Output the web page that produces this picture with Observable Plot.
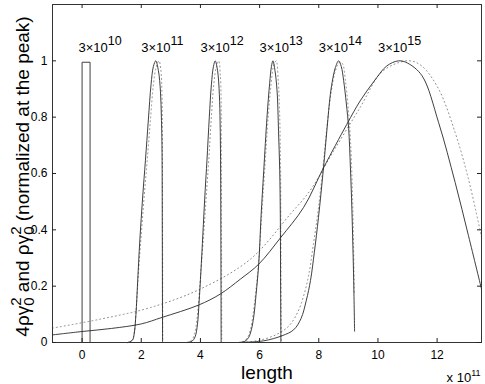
<!DOCTYPE html>
<html><head><meta charset="utf-8">
<script src="https://cdn.jsdelivr.net/npm/d3@7"></script>
<script src="https://cdn.jsdelivr.net/npm/@observablehq/plot@0.6"></script>
<style>body{margin:0;background:#fff}</style>
</head><body><div id="chart"></div>
<script>
// Axis ticks and labels
const xTicks = [0, 2, 4, 6, 8, 10, 12];
const yTicks = [0, 0.2, 0.4, 0.6, 0.8, 1];
const yTickLabels = ["0", "0.2", "0.4", "0.6", "0.8", "1"];
// Peak annotations
const labelX = [-0.12, 2, 4, 6, 8, 10];
const labelText = ["3×10^{10}", "3×10^{11}", "3×10^{12}", "3×10^{13}", "3×10^{14}", "3×10^{15}"];
const labelY = 1.03;
const xLabel = "length";
const yLabel = "4ργ_{0}^{2} and ργ_{0}^{2} (normalized at the peak)";
const xExponent = "x 10^{11}";

// Curves [length (×1e11), normalized value]
const rect10 = [[0,0],[0,0.995],[0.27,0.995],[0.27,0]];
const solid11 = [[1.55,0],[1.70,0.008],[1.76,0.03],[1.82,0.10],[1.88,0.22],[1.95,0.36],[2.05,0.52],[2.14,0.645],[2.24,0.79],[2.33,0.915],[2.41,0.98],[2.49,1.0],[2.58,0.965],[2.65,0.89],[2.68,0.80],[2.70,0.70],[2.71,0.45],[2.715,0.2],[2.72,0]];
const dotted11 = [[1.55,0],[1.70,0.01],[1.77,0.04],[1.83,0.12],[1.90,0.24],[1.99,0.37],[2.10,0.52],[2.20,0.645],[2.31,0.79],[2.41,0.915],[2.50,0.975],[2.60,1.0],[2.66,0.97],[2.70,0.88],[2.715,0.7],[2.72,0.4],[2.725,0]];
const solid12 = [[3.55,0],[3.72,0.005],[3.82,0.02],[3.90,0.065],[3.95,0.135],[4.03,0.28],[4.10,0.42],[4.16,0.54],[4.22,0.645],[4.30,0.80],[4.37,0.915],[4.44,0.98],[4.50,1.0],[4.58,0.965],[4.64,0.88],[4.665,0.78],[4.68,0.65],[4.69,0.4],[4.70,0]];
const dotted12 = [[3.55,0],[3.70,0.008],[3.80,0.03],[3.88,0.08],[3.95,0.16],[4.05,0.30],[4.14,0.43],[4.21,0.54],[4.28,0.645],[4.37,0.80],[4.45,0.915],[4.53,0.975],[4.62,1.0],[4.67,0.955],[4.70,0.86],[4.71,0.6],[4.715,0.3],[4.72,0]];
const solid13 = [[5.3,0],[5.5,0.004],[5.63,0.018],[5.72,0.045],[5.80,0.09],[5.88,0.17],[5.97,0.278],[6.05,0.45],[6.14,0.61],[6.25,0.80],[6.34,0.92],[6.40,0.98],[6.45,1.0],[6.52,0.965],[6.59,0.894],[6.64,0.75],[6.68,0.61],[6.70,0.45],[6.71,0.2],[6.72,0]];
const dotted13 = [[5.3,0],[5.48,0.005],[5.60,0.02],[5.70,0.05],[5.78,0.10],[5.87,0.18],[5.97,0.29],[6.07,0.45],[6.17,0.61],[6.29,0.80],[6.39,0.92],[6.47,0.98],[6.56,1.0],[6.63,0.93],[6.68,0.80],[6.71,0.6],[6.72,0.3],[6.73,0]];
const solid14 = [[5.3,0],[6.14,0.006],[6.76,0.024],[7.15,0.045],[7.40,0.085],[7.58,0.15],[7.72,0.22],[7.85,0.32],[7.99,0.444],[8.16,0.62],[8.28,0.76],[8.39,0.88],[8.48,0.94],[8.56,0.976],[8.67,1.0],[8.76,0.98],[8.84,0.93],[8.93,0.85],[9.01,0.76],[9.07,0.62],[9.12,0.47],[9.18,0.22],[9.21,0.04]];
const dotted14 = [[5.3,0],[6.0,0.008],[6.6,0.03],[7.0,0.06],[7.3,0.11],[7.5,0.17],[7.66,0.24],[7.82,0.35],[7.98,0.47],[8.14,0.62],[8.28,0.77],[8.42,0.89],[8.55,0.96],[8.70,0.995],[8.80,0.99],[8.90,0.93],[8.99,0.84],[9.07,0.72],[9.13,0.56],[9.17,0.38],[9.20,0.17]];
const solid15 = [[-1,0.027],[0,0.039],[1,0.05],[2,0.066],[2.7,0.089],[3.94,0.133],[4.67,0.172],[5.35,0.225],[5.97,0.278],[6.7,0.371],[7.49,0.48],[8.16,0.62],[8.95,0.775],[9.4,0.858],[9.85,0.925],[10.3,0.982],[10.7,1.0],[11.0,0.992],[11.49,0.947],[12.05,0.781],[12.61,0.568],[13.06,0.379],[13.5,0.19]];
const dotted15 = [[-1,0.051],[0.62,0.083],[2.31,0.124],[4.0,0.19],[5.69,0.296],[7.04,0.456],[7.71,0.54],[8.5,0.68],[9.4,0.835],[10.08,0.955],[10.6,0.99],[11.1,1.0],[11.5,0.98],[12.05,0.90],[12.61,0.745],[13.06,0.58],[13.5,0.375]];

const solidSeries = [rect10, solid11, solid12, solid13, solid14, solid15];
const dottedSeries = [dotted11, dotted12, dotted13, dotted14, dotted15];

const W = 485, H = 384, mL = 52, mR = 4, mT = 4, mB = 42;
const frameW = W - mL - mR, frameH = H - mT - mB;
const FONT = "'Liberation Sans', Arial, Helvetica, sans-serif";
const px = d => d[0], py = d => d[1];

const marks = [];
dottedSeries.forEach(s => marks.push(Plot.line(s, {x: px, y: py, stroke: "#8a8a8a", strokeWidth: 1, strokeDasharray: "1,3", curve: "catmull-rom"})));
solidSeries.forEach((s, i) => marks.push(Plot.line(s, {x: px, y: py, stroke: "#2a2a2a", strokeWidth: 0.9, curve: i === 0 ? "linear" : "catmull-rom"})));

const chart = Plot.plot({
  width: W, height: H,
  marginLeft: mL, marginRight: mR, marginTop: mT, marginBottom: mB,
  style: {fontFamily: FONT, fontSize: "12px", color: "#000", background: "#fff"},
  x: {domain: [-1, 13.5], label: null},
  y: {domain: [0, 1.2], label: null},
  marks: [
    ...marks,
    Plot.frame({stroke: "#333", strokeWidth: 1}),
    Plot.tickX(xTicks, {x: d => d, insetTop: frameH - 4, stroke: "#222"}),
    Plot.tickX(xTicks, {x: d => d, insetBottom: frameH - 4, stroke: "#222"}),
    Plot.tickY(yTicks, {y: d => d, insetRight: frameW - 4, stroke: "#222"}),
    Plot.tickY(yTicks, {y: d => d, insetLeft: frameW - 4, stroke: "#222"}),
    Plot.axisX(xTicks, {tickSize: 0, tickPadding: 8, fontSize: 12, tickFormat: d => String(d), label: null}),
    Plot.axisY(yTicks, {tickSize: 0, tickPadding: 5, fontSize: 12, tickFormat: d => yTickLabels[yTicks.indexOf(d)], label: null}),
    Plot.text(labelText, {x: (d, i) => labelX[i], y: labelY, text: d => d, textAnchor: "start", lineAnchor: "bottom", fontSize: 13, fill: "#000"}),
    Plot.text([xLabel], {frameAnchor: "bottom", dy: 36, lineAnchor: "bottom", fontSize: 19, fill: "#000"}),
    Plot.text([xExponent], {frameAnchor: "bottom-right", textAnchor: "end", lineAnchor: "bottom", dy: 39, dx: -1, fontSize: 13, fill: "#000"}),
    Plot.text([yLabel], {frameAnchor: "left", rotate: -90, dx: -24, dy: 3, textAnchor: "middle", lineAnchor: "bottom", fontSize: 19, fill: "#000"})
  ]
});

function richText(node, supSize, supShift, subShift) {
  const sel = d3.select(node);
  const s = sel.text();
  if (!/[\^_]\{/.test(s)) return;
  const parts = s.split(/(\^\{[^}]*\}|_\{[^}]*\})/).filter(p => p !== "");
  let offset = 0, prevSubW = 0;
  sel.text(null);
  parts.forEach(p => {
    let target = 0, txt = p, small = false, dx = 0;
    if (p.startsWith("^{")) { target = -supShift; txt = p.slice(2, -1); small = true; if (prevSubW) dx = -prevSubW; }
    else if (p.startsWith("_{")) { target = subShift; txt = p.slice(2, -1); small = true; }
    const ts = sel.append("tspan").attr("dy", target - offset).text(txt);
    if (small) ts.attr("font-size", supSize);
    if (dx) ts.attr("dx", dx);
    prevSubW = p.startsWith("_{") ? txt.length * 0.556 * supSize : 0;
    offset = target;
  });
}
d3.select(chart).selectAll("text").each(function() {
  const s = d3.select(this).text();
  if (s.startsWith("3×10")) richText(this, 12.5, 7, 0);
  else if (s.startsWith("x 10")) richText(this, 9, 6, 0);
  else if (s.startsWith("4ρ")) richText(this, 15, 8, 5);
});
document.getElementById("chart").appendChild(chart);
</script>
</body></html>
